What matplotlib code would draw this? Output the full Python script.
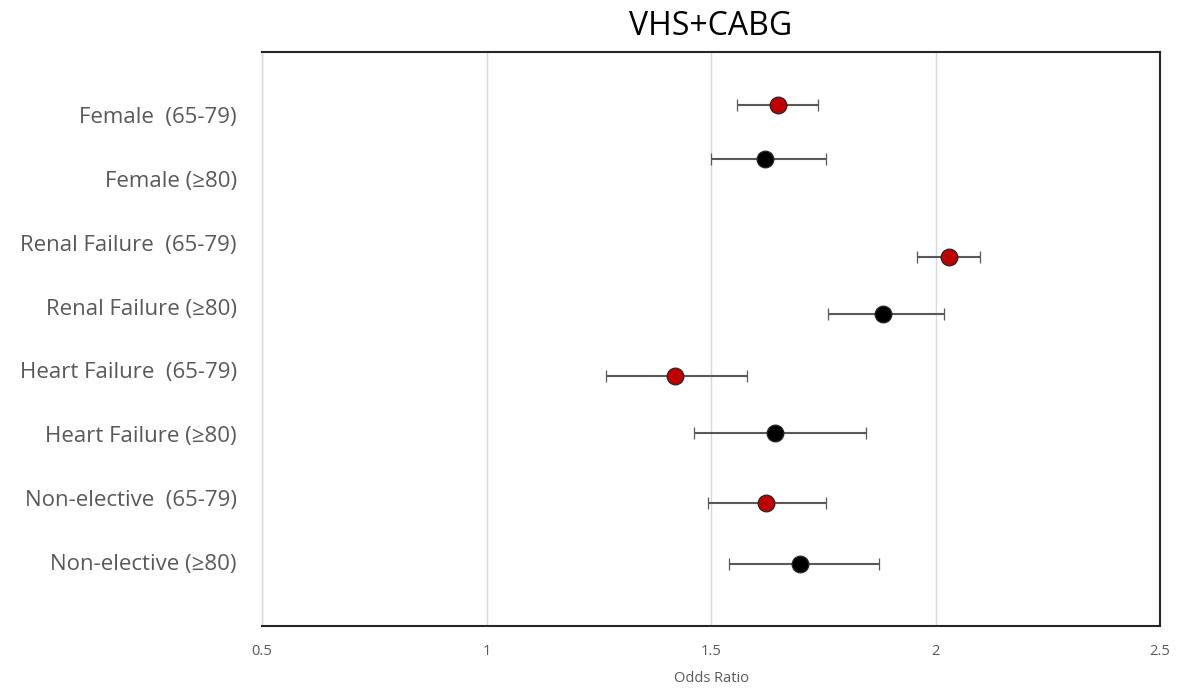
import matplotlib
matplotlib.use('Agg')
import matplotlib.pyplot as plt

# Data (odds ratio with 95% CI), top to bottom
labels = ['Female  (65-79)', 'Female (\u226580)',
          'Renal Failure  (65-79)', 'Renal Failure (\u226580)',
          'Heart Failure  (65-79)', 'Heart Failure (\u226580)',
          'Non-elective  (65-79)', 'Non-elective (\u226580)']
label_y = [8, 7, 6, 5, 4, 3, 2, 1]
point_y = [8.16, 7.32, 5.78, 4.89, 3.91, 3.02, 1.92, 0.97]
odds = [1.649, 1.621, 2.031, 1.882, 1.420, 1.643, 1.623, 1.698]
ci_low = [1.558, 1.500, 1.959, 1.760, 1.267, 1.463, 1.493, 1.540]
ci_high = [1.739, 1.757, 2.099, 2.019, 1.580, 1.845, 1.757, 1.875]
colors = ['#C00000', 'black', '#C00000', 'black',
          '#C00000', 'black', '#C00000', 'black']

plt.rcParams['font.family'] = ['Open Sans', 'DejaVu Sans']

fig = plt.figure(figsize=(11.8, 6.9), dpi=100)
ax = fig.add_axes([262 / 1180, 1 - 625.5 / 690, 898 / 1180, 574 / 690])

for x, y, lo, hi, c in zip(odds, point_y, ci_low, ci_high, colors):
    ax.errorbar(x, y, xerr=[[x - lo], [hi - x]], fmt='o', color=c,
                markersize=12, markeredgecolor='#262626', markeredgewidth=0.9,
                ecolor='#595959', elinewidth=1.5, capsize=4, capthick=1.5, zorder=3)

ax.set_xlim(0.5, 2.5)
ax.set_ylim(0, 9)
ax.set_xticks([0.5, 1, 1.5, 2, 2.5])
ax.set_xticklabels(['0.5', '1', '1.5', '2', '2.5'])
ax.set_yticks(label_y)
ax.set_yticklabels(labels)
ax.tick_params(axis='y', length=0, pad=18, labelsize=16, labelcolor='#595959')
ax.tick_params(axis='x', length=0, pad=13, labelsize=10.5, labelcolor='#595959')
ax.grid(axis='x', color='#d9d9d9', linewidth=1)
ax.set_axisbelow(True)

for side in ['top', 'right', 'bottom']:
    ax.spines[side].set_color('#262626')
    ax.spines[side].set_linewidth(1.5)
ax.spines['left'].set_color('#d9d9d9')
ax.spines['left'].set_linewidth(1)

ax.set_xlabel('Odds Ratio', fontsize=10.5, color='#595959', labelpad=9)
ax.set_title('VHS+CABG', fontsize=23, color='black', pad=12)

fig.savefig('out.png', dpi=100)
